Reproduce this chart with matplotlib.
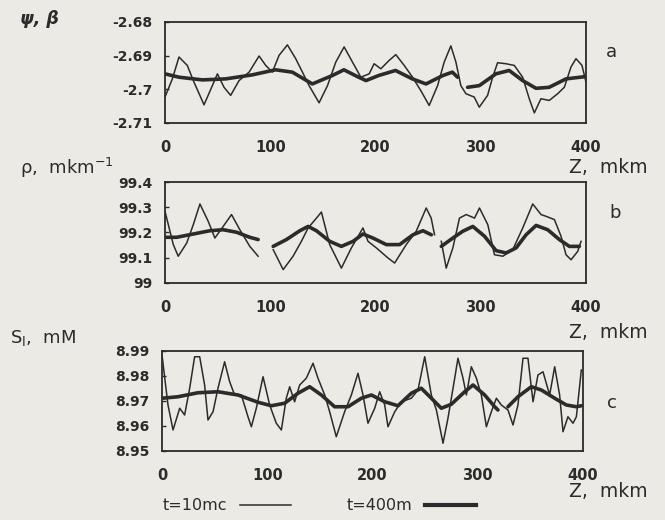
import matplotlib
matplotlib.use("Agg")
import matplotlib.pyplot as plt
from matplotlib.lines import Line2D
import numpy as np

nan = np.nan

# --- panel a: psi, beta ---
a_thin_z = [0, 7, 13.3, 21.2, 27.6, 37.1, 45, 49.8, 56.1, 62.4, 70.4, 79.9, 89.4, 95.7,
            102, 108.4, 116.3, 124.2, 130.6, 136.9, 146.4, 154.4, 162.3, 170.2, 178.1,
            186.1, 194, 198.7, 205.1, 213, 219.3, 227.3, 235.2, 243.1, 251, 259, 265.3,
            271.6, 276.4, 281.1, 285.9, 293.8, 298.6, 306.5, 311.3, 316, 323.9, 331.9,
            339.8, 346.1, 350.9, 357.2, 365.1, 373.1, 379.4, 385.7, 390.5, 396.2, 400]
a_thin_v = [-2.7023, -2.6969, -2.6904, -2.6929, -2.6979, -2.7046, -2.6989, -2.6954,
            -2.6994, -2.7018, -2.6974, -2.6949, -2.6901, -2.6929, -2.6949, -2.6899,
            -2.6868, -2.6909, -2.6949, -2.6989, -2.7040, -2.6989, -2.6919, -2.6874,
            -2.6919, -2.6964, -2.6954, -2.6924, -2.6939, -2.6914, -2.6897, -2.6929,
            -2.6964, -2.7004, -2.7048, -2.6989, -2.6919, -2.6871, -2.6919, -2.6989,
            -2.7013, -2.7023, -2.7053, -2.7018, -2.6964, -2.6921, -2.6924, -2.6929,
            -2.6964, -2.7028, -2.7070, -2.7028, -2.7033, -2.7013, -2.6994, -2.6934,
            -2.6909, -2.6929, -2.6979]
a_thick_z = [0, 13.3, 35.5, 57.7, 83, 105, 121, 140, 159, 170, 184, 191, 203, 219, 235,
             248, 264, 273, 278, nan,
             287.5, 298.6, 314.4, 327, 339.8, 352.5, 365, 381, 400]
a_thick_v = [-2.6954, -2.6964, -2.6972, -2.6969, -2.6957, -2.6942, -2.6949, -2.6984,
             -2.6959, -2.6942, -2.6964, -2.6974, -2.6959, -2.6944, -2.6969, -2.6984,
             -2.6959, -2.6949, -2.6964, nan,
             -2.6994, -2.6989, -2.6954, -2.6944, -2.6974, -2.6997, -2.6994, -2.6969,
             -2.6962]

# --- panel b: rho ---
b_thin_z = [0, 7.9, 12.6, 20.6, 26.9, 33.2, 41.1, 47.4, 55.3, 63.2, 71.1, 80.6, 88.5, nan,
            102.8, 112.3, 121.7, 129.6, 136, 143.9, 148.6, 156.5, 167.6, 177.1, 188.1,
            192.9, 200.8, 211.9, 218.2, 229.2, 238.7, 248.2, 252.9, 256.1, nan,
            262.5, 267.2, 273.5, 279.8, 286.2, 294.1, 298.8, 306.7, 313, 321, 330.4,
            339.9, 349.4, 357.3, 362.1, 370, 376.3, 381, 385.8, 392.1, 395.3]
b_thin_v = [99.284, 99.152, 99.106, 99.158, 99.231, 99.313, 99.244, 99.178, 99.224,
            99.271, 99.211, 99.145, 99.106, nan,
            99.132, 99.053, 99.106, 99.165, 99.218, 99.257, 99.281, 99.152, 99.059,
            99.139, 99.218, 99.165, 99.139, 99.099, 99.079, 99.152, 99.205, 99.297,
            99.257, 99.191, nan,
            99.165, 99.059, 99.139, 99.257, 99.271, 99.257, 99.297, 99.231, 99.112,
            99.106, 99.132, 99.218, 99.313, 99.271, 99.264, 99.251, 99.185, 99.112,
            99.092, 99.125, 99.165]
b_thick_z = [0, 11.1, 26.9, 42.7, 55.3, 68, 80.6, 88.5, nan,
             102.8, 115.4, 128.1, 136, 143.9, 156.5, 167.6, 178.7, 188.1, 197.6, 210.3,
             222.9, 235.6, 245.1, 253, nan,
             262.5, 273.5, 283, 292.5, 303.6, 314.6, 324.1, 333.6, 343.1, 352.6, 363.6,
             374.7, 384.2, 393.7]
b_thick_v = [99.181, 99.181, 99.194, 99.207, 99.211, 99.201, 99.181, 99.172, nan,
             99.145, 99.172, 99.207, 99.224, 99.207, 99.165, 99.145, 99.165, 99.194,
             99.178, 99.152, 99.152, 99.191, 99.207, 99.191, nan,
             99.145, 99.178, 99.205, 99.224, 99.185, 99.128, 99.119, 99.139, 99.191,
             99.228, 99.211, 99.172, 99.145, 99.145]

# --- panel c: S_l ---
c_thin_z = [0, 5.7, 10.5, 16.8, 21.5, 26.3, 31, 35.8, 40.5, 43.7, 48.5, 53.2, 59.5, 64.3,
            69, 75.4, 81.7, 84.9, 89.6, 96, 102.3, 108.6, 113.4, 118.1, 121.3, 126,
            130.8, 137.1, 143.5, 148.2, 154.6, 159.3, 165.6, 173.5, 179.9, 186.2, 191,
            195.7, 202.1, 206.8, 211.6, 214.7, 221.1, 227.4, 236.9, 243.2, 249.6, 255.9,
            260.7, 267, 271.7, 278.1, 281.2, 286, 289.2, 293.9, 298.7, 303.4, 308.2,
            312.9, 317.7, 322.4, 328.7, 333.5, 338.2, 343, 347.7, 352.5, 357.2, 362,
            368.3, 373.1, 377.8, 381, 385.7, 390.5, 393.7, 398.4]
c_thin_v = [8.9884, 8.9684, 8.9584, 8.9671, 8.9644, 8.9751, 8.9877, 8.9877, 8.9764,
            8.9624, 8.9657, 8.9751, 8.9857, 8.9777, 8.9724, 8.9724, 8.9637, 8.9597,
            8.9671, 8.9797, 8.9684, 8.9611, 8.9584, 8.9711, 8.9757, 8.9697, 8.9764,
            8.9791, 8.9851, 8.9791, 8.9724, 8.9657, 8.9557, 8.9657, 8.9724, 8.9811,
            8.9724, 8.9611, 8.9671, 8.9737, 8.9684, 8.9597, 8.9657, 8.9697, 8.9711,
            8.9744, 8.9877, 8.9724, 8.9664, 8.9531, 8.9631, 8.9791, 8.9871, 8.9791,
            8.9724, 8.9837, 8.9791, 8.9724, 8.9597, 8.9657, 8.9711, 8.9684, 8.9664,
            8.9604, 8.9684, 8.9871, 8.9871, 8.9697, 8.9804, 8.9817, 8.9724, 8.9837,
            8.9724, 8.9577, 8.9637, 8.9611, 8.9637, 8.9824]
c_thick_z = [0, 15.2, 34.2, 53.2, 72.2, 91.2, 103.9, 116.5, 129.2, 140.3, 151.4, 164,
             176.7, 189.4, 198.9, 211.6, 224.2, 236.9, 246.4, 255.9, 265.4, 274.9, 287.6,
             295.5, 306.6, 316.1, 319.2, nan,
             328.7, 338.2, 350.9, 360.4, 373.1, 384.2, 393.7, 398.4]
c_thick_v = [8.9711, 8.9717, 8.9733, 8.9737, 8.9724, 8.9695, 8.9681, 8.9691, 8.9731,
             8.9757, 8.9724, 8.9677, 8.9677, 8.9711, 8.9724, 8.9697, 8.9681, 8.9731,
             8.9751, 8.9711, 8.9671, 8.9687, 8.9737, 8.9764, 8.9724, 8.9677, 8.9664, nan,
             8.9677, 8.9717, 8.9757, 8.9744, 8.9711, 8.9684, 8.9677, 8.9681]

x_ticks = [0, 100, 200, 300, 400]
a_ticks = [-2.68, -2.69, -2.70, -2.71]
a_ticklabels = ["-2.68", "-2.69", "-2.7", "-2.71"]
b_ticks = [99.4, 99.3, 99.2, 99.1, 99.0]
b_ticklabels = ["99.4", "99.3", "99.2", "99.1", "99"]
c_ticks = [8.99, 8.98, 8.97, 8.96, 8.95]
c_ticklabels = ["8.99", "8.98", "8.97", "8.96", "8.95"]

BG = "#ebeae4"
INK = "#2b2b2b"

fig = plt.figure(figsize=(6.65, 5.2), dpi=100)
fig.patch.set_facecolor(BG)

panels = [
    ([0.2481, 0.7635, 0.6331, 0.1942], a_thin_z, a_thin_v, a_thick_z, a_thick_v,
     a_ticks, a_ticklabels, (-2.71, -2.68)),
    ([0.2481, 0.4558, 0.6331, 0.1942], b_thin_z, b_thin_v, b_thick_z, b_thick_v,
     b_ticks, b_ticklabels, (99.0, 99.4)),
    ([0.2436, 0.1327, 0.6331, 0.1923], c_thin_z, c_thin_v, c_thick_z, c_thick_v,
     c_ticks, c_ticklabels, (8.95, 8.99)),
]

for rect, tz, tv, kz, kv, yt, ytl, ylim in panels:
    ax = fig.add_axes(rect)
    ax.set_facecolor(BG)
    ax.plot(tz, tv, color=INK, lw=1.1)
    ax.plot(kz, kv, color=INK, lw=2.6, solid_capstyle="round")
    ax.set_xlim(0, 400)
    ax.set_ylim(*ylim)
    ax.set_xticks(x_ticks)
    ax.set_yticks(yt)
    ax.set_yticklabels(ytl)
    for s in ax.spines.values():
        s.set_color(INK)
        s.set_linewidth(1.3)
    ax.tick_params(axis="y", direction="in", length=3, width=1, color=INK,
                   labelsize=10, labelcolor=INK, pad=9)
    ax.tick_params(axis="x", length=0, labelsize=10.5, labelcolor=INK, pad=12)
    for lab in ax.get_xticklabels() + ax.get_yticklabels():
        lab.set_fontweight("bold")

# axis titles and panel letters
fig.text(0.03, 0.963, "ψ, β", fontsize=12.5, color=INK, ha="left", va="center",
         fontweight="bold", style="italic")
fig.text(0.03, 0.677, r"ρ,  mkm$^{-1}$", fontsize=13, color=INK, ha="left", va="center")
fig.text(0.015, 0.35, r"S$_\mathregular{l}$,  mM", fontsize=13, color=INK,
         ha="left", va="center")
for y in (0.677, 0.36, 0.054):
    fig.text(0.855, y, "Z,  mkm", fontsize=13.5, color=INK, ha="left", va="center")
fig.text(0.92, 0.9, "a", fontsize=13, color=INK, ha="center", va="center")
fig.text(0.925, 0.59, "b", fontsize=13, color=INK, ha="center", va="center")
fig.text(0.92, 0.225, "c", fontsize=13, color=INK, ha="center", va="center")

handles = [Line2D([], [], color=INK, lw=1.1), Line2D([], [], color=INK, lw=3)]
fig.legend(handles, ["t=10mc", "t=400m"], loc="center", bbox_to_anchor=(0.48, 0.027),
           ncol=2, frameon=False, markerfirst=False, handlelength=3.2,
           columnspacing=3.5, fontsize=11.5, labelcolor=INK)

fig.savefig("out.png", dpi=100, facecolor=BG)
